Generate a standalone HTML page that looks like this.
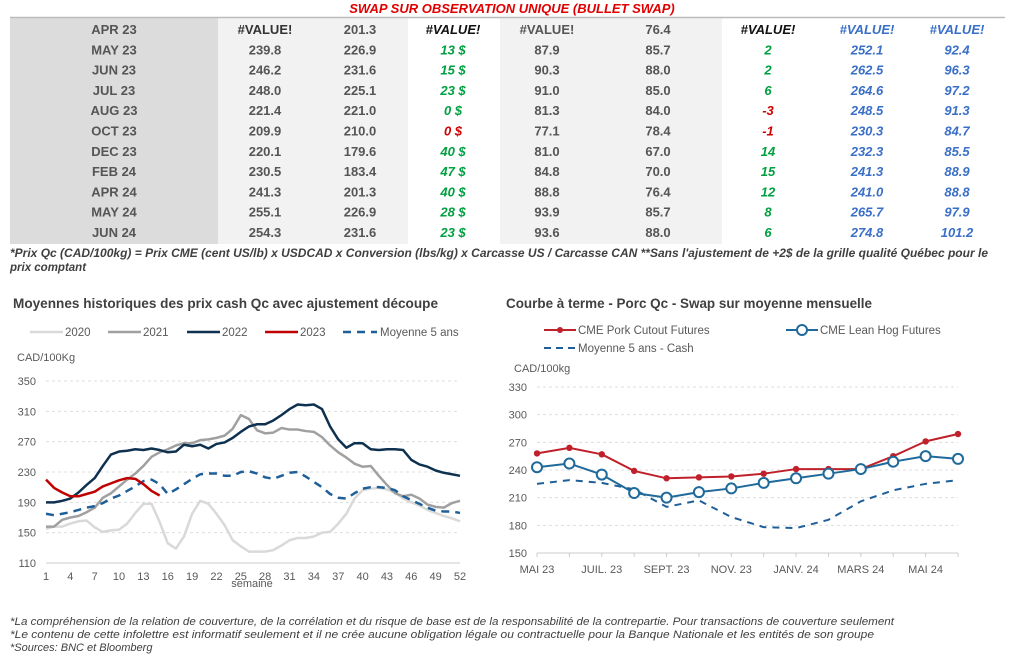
<!DOCTYPE html>
<html><head><meta charset="utf-8"><style>
body{margin:0;background:#fff;width:1024px;height:667px;overflow:hidden;font-family:"Liberation Sans",sans-serif}
svg text{font-family:"Liberation Sans",sans-serif}
</style></head><body>
<svg id="s" width="1024" height="667" xmlns="http://www.w3.org/2000/svg">
<rect x="10" y="18" width="208" height="226" fill="#dcdcdc"/>
<rect x="218" y="18" width="190" height="226" fill="#f2f2f2"/>
<rect x="500" y="18" width="222" height="226" fill="#f2f2f2"/>
<line x1="10" y1="17.5" x2="1005" y2="17.5" stroke="#bbb" stroke-width="1.5"/>
<text x="512" y="13" text-anchor="middle" fill="#e00000" font-size="13" font-weight="bold" font-style="italic">SWAP SUR OBSERVATION UNIQUE (BULLET SWAP)</text>
<g id="tbl" font-size="13" font-weight="bold" text-anchor="middle"></g>
<text x="10" y="257" font-size="11.5" font-style="italic" font-weight="bold" fill="#404040" textLength="978" lengthAdjust="spacingAndGlyphs">*Prix Qc (CAD/100kg) = Prix CME (cent US/lb) x USDCAD x Conversion (lbs/kg) x Carcasse US / Carcasse CAN **Sans l'ajustement de +2$ de la grille qualité Québec pour le</text>
<text x="10" y="271" font-size="11.5" font-style="italic" font-weight="bold" fill="#404040">prix comptant</text>
<text x="13" y="308" font-size="14" font-weight="bold" fill="#404040" textLength="425" lengthAdjust="spacingAndGlyphs">Moyennes historiques des prix cash Qc avec ajustement découpe</text>
<text x="506" y="308" font-size="14" font-weight="bold" fill="#404040" textLength="366" lengthAdjust="spacingAndGlyphs">Courbe à terme - Porc Qc - Swap sur moyenne mensuelle</text>
<g id="L"></g><g id="R"></g>
<g font-size="11" font-style="italic" fill="#404040">
<text x="10" y="625" textLength="884" lengthAdjust="spacingAndGlyphs">*La compréhension de la relation de couverture, de la corrélation et du risque de base est de la responsabilité de la contrepartie. Pour transactions de couverture seulement</text>
<text x="10" y="638" textLength="864" lengthAdjust="spacingAndGlyphs">*Le contenu de cette infolettre est informatif seulement et il ne crée aucune obligation légale ou contractuelle pour la Banque Nationale et les entités de son groupe</text>
<text x="10" y="651">*Sources: BNC et Bloomberg</text>
</g>
</svg>
<script>
const NS="http://www.w3.org/2000/svg";
function el(p,t,a,txt){const e=document.createElementNS(NS,t);for(const k in a)e.setAttribute(k,a[k]);if(txt!=null)e.textContent=txt;p.appendChild(e);return e;}
const rows=[["APR 23","#VALUE!","201.3","#VALUE!","#VALUE!","76.4","#VALUE!","#VALUE!","#VALUE!"],
["MAY 23","239.8","226.9","13 $","87.9","85.7","2","252.1","92.4"],
["JUN 23","246.2","231.6","15 $","90.3","88.0","2","262.5","96.3"],
["JUL 23","248.0","225.1","23 $","91.0","85.0","6","264.6","97.2"],
["AUG 23","221.4","221.0","0 $","81.3","84.0","-3","248.5","91.3"],
["OCT 23","209.9","210.0","0 $","77.1","78.4","-1","230.3","84.7"],
["DEC 23","220.1","179.6","40 $","81.0","67.0","14","232.3","85.5"],
["FEB 24","230.5","183.4","47 $","84.8","70.0","15","241.3","88.9"],
["APR 24","241.3","201.3","40 $","88.8","76.4","12","241.0","88.8"],
["MAY 24","255.1","226.9","28 $","93.9","85.7","8","265.7","97.9"],
["JUN 24","254.3","231.6","23 $","93.6","88.0","6","274.8","101.2"]];
const cx=[114,265,360,453,547,658,768,867,957];
const T=document.getElementById("tbl");
rows.forEach((r,i)=>{const y=34+i*20.3;r.forEach((v,j)=>{let f="#555",it=false;
 if(j==3||j==6){it=true;f=i==0?"#111":(v.startsWith("-")||(j==3&&i==5)?"#d00000":"#00a040");}
 if(j==1&&i==0)f="#333";
 if(j>=7){it=true;f="#3a6fc8";}
 const a={x:cx[j],y:y,fill:f};if(it)a["font-style"]="italic";el(T,"text",a,v);});});
const L=document.getElementById("L");
const ly=v=>563-(v-110)*30.33/40, lx=w=>46+(w-1)*414/51;
for(let v=110;v<=350;v+=40){el(L,"text",{x:36,y:ly(v)+4,"font-size":11,fill:"#595959","text-anchor":"end"},v);
 if(v>110)el(L,"line",{x1:46,x2:460,y1:ly(v),y2:ly(v),stroke:"#ddd","stroke-dasharray":"3,3"});}
el(L,"line",{x1:46,x2:460,y1:563,y2:563,stroke:"#ccc"});
for(let w=1;w<=52;w+=3)el(L,"text",{x:lx(w),y:580,"font-size":11,fill:"#595959","text-anchor":"middle"},w);
el(L,"text",{x:252,y:587,"font-size":11,fill:"#595959","text-anchor":"middle"},"semaine");
el(L,"text",{x:17,y:361,"font-size":11,fill:"#595959"},"CAD/100Kg");
const d20=[155,158,158,162,165,166,157,151,153,154,162,176,188,188,164,136,129,145,175,192,188,175,160,140,132,125,125,125,127,133,140,143,143,145,150,151,162,175,195,206,208,209,207,203,195,190,186,180,176,172,169,165];
const d21=[158,158,167,170,172,177,183,196,202,211,220,228,238,250,256,260,265,268,268,272,273,275,278,287,305,300,285,281,282,288,286,286,284,283,276,265,256,249,241,237,238,225,213,202,198,200,195,187,184,183,189,192];
const d22=[190,190,192,195,203,213,222,238,253,257,258,260,259,261,259,256,257,266,264,266,261,267,269,275,283,290,293,293,298,305,313,319,318,319,313,290,273,262,268,268,260,259,260,260,259,246,240,237,232,229,227,225];
const d23=[220,209,203,198,198,201,204,211,215,219,222,221,214,205,199];
const dm=[175,173,175,177,180,183,185,189,195,199,205,211,218,220,214,201,207,214,221,227,228,228,225,225,230,231,228,223,221,225,229,230,224,217,210,201,196,195,202,208,210,210,209,206,198,193,188,183,179,178,178,176];
function pl(g,d,xf,yf,a){a.points=d.map((v,i)=>xf(i+1)+","+yf(v)).join(" ");a.fill="none";a["stroke-linejoin"]="round";return el(g,"polyline",a);}
pl(L,d20,lx,ly,{stroke:"#d9d9d9","stroke-width":2.5});
pl(L,d21,lx,ly,{stroke:"#a0a0a0","stroke-width":2.5});
pl(L,d22,lx,ly,{stroke:"#0f3150","stroke-width":2.5});
pl(L,dm,lx,ly,{stroke:"#1f5f99","stroke-width":2.5,"stroke-dasharray":"8,6"});
pl(L,d23,lx,ly,{stroke:"#c00000","stroke-width":2.5});
const lg=[[30,"#d9d9d9","2020"],[108,"#a0a0a0","2021"],[187,"#0f3150","2022"],[265,"#c00000","2023"]];
lg.forEach(([x,c,t])=>{el(L,"line",{x1:x,x2:x+33,y1:332,y2:332,stroke:c,"stroke-width":2.5});el(L,"text",{x:x+35,y:336,"font-size":11.5,fill:"#595959"},t);});
el(L,"line",{x1:343,x2:377,y1:332,y2:332,stroke:"#1f5f99","stroke-width":2.5,"stroke-dasharray":"8,6"});
el(L,"text",{x:380,y:336,"font-size":11.5,fill:"#595959"},"Moyenne 5 ans");
const R=document.getElementById("R");
const ry=v=>553-(v-150)*27.67/30, rx=i=>537+(i-1)*421/13;
for(let v=150;v<=330;v+=30){el(R,"text",{x:527,y:ry(v)+4,"font-size":11,fill:"#595959","text-anchor":"end"},v);
 if(v>150)el(R,"line",{x1:537,x2:958,y1:ry(v),y2:ry(v),stroke:"#ddd","stroke-dasharray":"3,3"});}
el(R,"line",{x1:537,x2:958,y1:553,y2:553,stroke:"#ccc"});
for(let i=1;i<=14;i++)el(R,"line",{x1:rx(i),x2:rx(i),y1:553,y2:557,stroke:"#ccc"});
["MAI 23","JUIL. 23","SEPT. 23","NOV. 23","JANV. 24","MARS 24","MAI 24"].forEach((t,k)=>el(R,"text",{x:rx(1+2*k),y:573,"font-size":11,fill:"#595959","text-anchor":"middle"},t));
el(R,"text",{x:514,y:372,"font-size":11,fill:"#595959"},"CAD/100kg");
const cut=[258,264,257,239,231,232,233,236,241,241,241,255,271,279];
const lean=[243,247,235,215,210,216,220,226,231,236,241,249,255,252];
const mo=[225,229,226,219,200,207,189,178,177,186,206,218,225,229];
pl(R,mo,rx,ry,{stroke:"#1f5f99","stroke-width":2,"stroke-dasharray":"7,6"});
pl(R,cut,rx,ry,{stroke:"#c0202a","stroke-width":2});
cut.forEach((v,i)=>el(R,"circle",{cx:rx(i+1),cy:ry(v),r:3.2,fill:"#c0202a"}));
pl(R,lean,rx,ry,{stroke:"#1f6a9a","stroke-width":2});
lean.forEach((v,i)=>el(R,"circle",{cx:rx(i+1),cy:ry(v),r:5,fill:"#fff",stroke:"#1f6a9a","stroke-width":2}));
el(R,"line",{x1:544,x2:576,y1:330,y2:330,stroke:"#c0202a","stroke-width":2});el(R,"circle",{cx:560,cy:330,r:3,fill:"#c0202a"});
el(R,"text",{x:578,y:334,"font-size":11.5,fill:"#595959"},"CME Pork Cutout Futures");
el(R,"line",{x1:786,x2:818,y1:330,y2:330,stroke:"#1f6a9a","stroke-width":2});el(R,"circle",{cx:802,cy:330,r:5,fill:"#fff",stroke:"#1f6a9a","stroke-width":2});
el(R,"text",{x:820,y:334,"font-size":11.5,fill:"#595959"},"CME Lean Hog Futures");
el(R,"line",{x1:544,x2:576,y1:348,y2:348,stroke:"#1f5f99","stroke-width":2,"stroke-dasharray":"7,5"});
el(R,"text",{x:578,y:352,"font-size":11.5,fill:"#595959"},"Moyenne 5 ans - Cash");
</script>
</body></html>
